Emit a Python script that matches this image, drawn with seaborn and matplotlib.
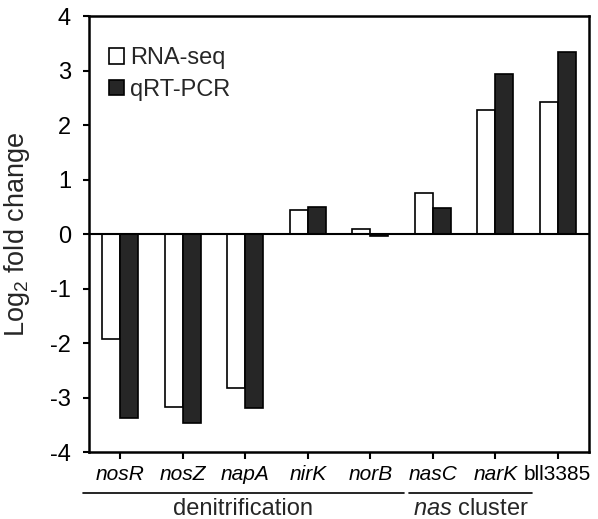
import seaborn as sns
import matplotlib.pyplot as plt
import matplotlib.transforms as mtransforms
import pandas as pd

sns.set_style("ticks")
plt.rcParams['font.family'] = ['Liberation Sans', 'DejaVu Sans']
plt.rcParams['axes.unicode_minus'] = False
plt.rcParams['mathtext.fontset'] = 'custom'
plt.rcParams['mathtext.rm'] = 'Liberation Sans'
plt.rcParams['mathtext.it'] = 'Liberation Sans:italic'

# Log2 fold change per gene
genes = ["nosR", "nosZ", "napA", "nirK", "norB", "nasC", "narK", "bll3385"]
rna_seq = [-1.93, -3.18, -2.83, 0.45, 0.10, 0.76, 2.28, 2.42]
qrt_pcr = [-3.37, -3.46, -3.20, 0.49, -0.03, 0.48, 2.94, 3.34]
methods = ["RNA-seq", "qRT-PCR"]
yticks = [-4, -3, -2, -1, 0, 1, 2, 3, 4]

df = pd.DataFrame({
    "gene": genes * 2,
    "value": rna_seq + qrt_pcr,
    "method": [methods[0]] * len(genes) + [methods[1]] * len(genes),
})

fig = plt.figure(figsize=(5.98, 5.19), dpi=100)
ax = fig.add_axes([0.149, 0.129, 0.836, 0.840])

sns.barplot(data=df, x="gene", y="value", hue="method", order=genes,
            hue_order=methods, palette=["white", "#262626"],
            edgecolor="black", linewidth=1.2, width=0.58, ax=ax)

ax.axhline(0, color="black", lw=1.5, zorder=3)
ax.set_xlim(-0.5, 7.5)
ax.set_ylim(-4, 4)
ax.set_yticks(yticks)
ax.set_yticklabels([str(t) for t in yticks])
ax.set_xlabel("")
ax.set_ylabel("Log$_2$ fold change", fontsize=19.5)
ax.yaxis.set_label_coords(-0.114, 0.5)

for s in ax.spines.values():
    s.set_visible(True)
    s.set_linewidth(1.8)
    s.set_color("black")
ax.tick_params(axis="y", direction="out", length=4, width=1.5,
               labelsize=17, pad=9, colors="black")
ax.tick_params(axis="x", direction="out", length=5, width=1.5,
               labelsize=15, pad=4, colors="black")

for lab in ax.get_xticklabels():
    if lab.get_text() != "bll3385":
        lab.set_fontstyle("italic")

ax.legend(frameon=False, loc="upper left", bbox_to_anchor=(0.02, 0.95),
          fontsize=17, handlelength=0.65, handleheight=0.65,
          handletextpad=0.25, labelspacing=0.4, borderaxespad=0)

# group brackets beneath the gene names
trans = mtransforms.blended_transform_factory(ax.transData, ax.transAxes)
groups = [("denitrification", -0.6, 4.54),
          ("$\\it{nas}$ cluster", 4.62, 6.59)]
for name, x0, x1 in groups:
    ax.plot([x0, x1], [-0.094, -0.094], color="black", lw=1.2,
            transform=trans, clip_on=False)
    ax.text((x0 + x1) / 2, -0.13, name, transform=trans,
            ha="center", va="center", fontsize=17)

fig.savefig("out.png", dpi=100)
plt.close(fig)
